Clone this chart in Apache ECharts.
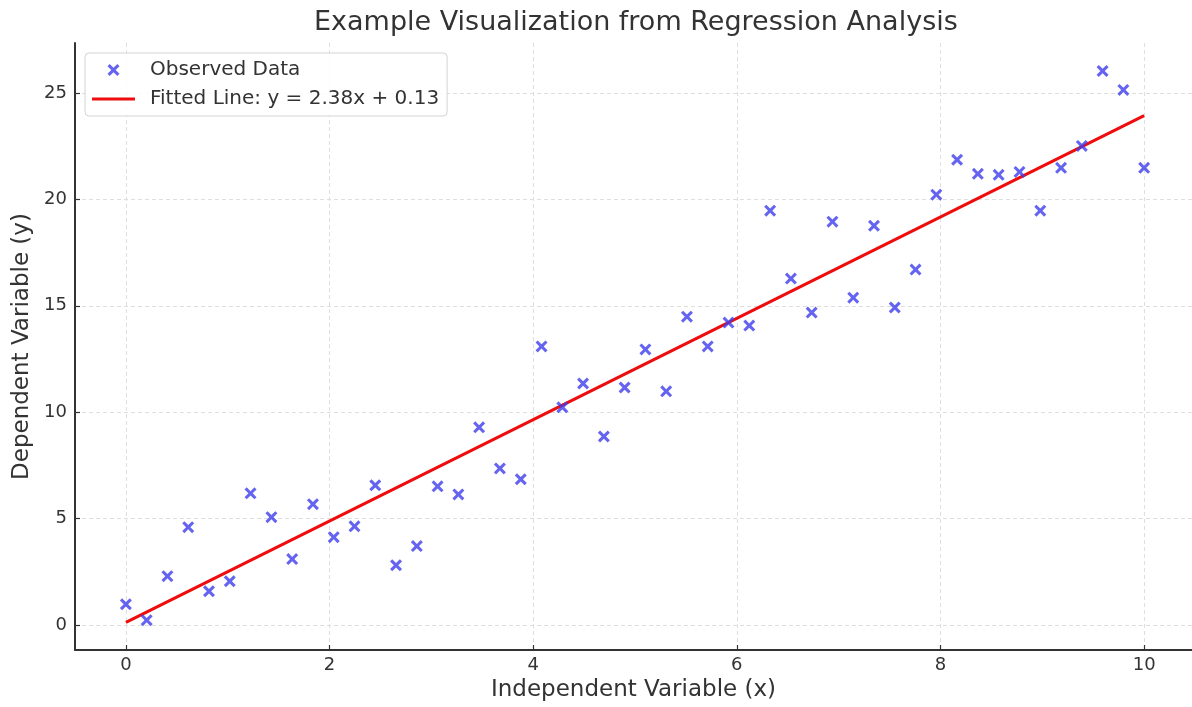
<!DOCTYPE html>
<html>
<head>
<meta charset="utf-8">
<title>Example Visualization from Regression Analysis</title>
<script src="https://cdn.jsdelivr.net/npm/echarts@6/dist/echarts.min.js"></script>
<style>
  html, body { margin: 0; padding: 0; background: #fff; }
  #chart { width: 1192px; height: 707px; }
</style>
</head>
<body>
<div id="chart"></div>
<script>
// observed points
const obsX = [0, 0.204, 0.408, 0.612, 0.816, 1.020, 1.224, 1.429, 1.633, 1.837,
  2.041, 2.245, 2.449, 2.653, 2.857, 3.061, 3.265, 3.469, 3.673, 3.878,
  4.082, 4.286, 4.490, 4.694, 4.898, 5.102, 5.306, 5.510, 5.714, 5.918,
  6.122, 6.327, 6.531, 6.735, 6.939, 7.143, 7.347, 7.551, 7.755, 7.959,
  8.163, 8.367, 8.571, 8.776, 8.980, 9.184, 9.388, 9.592, 9.796, 10]
const obsY = [0.98, 0.23, 2.30, 4.60, 1.59, 2.06, 6.19, 5.07, 3.10, 5.68,
  4.13, 4.64, 6.57, 2.81, 3.71, 6.52, 6.14, 9.29, 7.36, 6.85,
  13.09, 10.23, 11.35, 8.86, 11.16, 12.95, 10.98, 14.49, 13.09, 14.21,
  14.07, 19.47, 16.28, 14.68, 18.95, 15.38, 18.76, 14.92, 16.70, 20.22,
  21.86, 21.20, 21.15, 21.29, 19.47, 21.48, 22.51, 26.03, 25.14, 21.48]

// fitted line end points
const fitX = [0, 10]
const fitY = [0.13, 23.93]

const xTicks = [0, 2, 4, 6, 8, 10]
const yTicks = [0, 5, 10, 15, 20, 25]

const chart = echarts.init(document.getElementById('chart'))

const textColor = '#333'
const font = 'DejaVu Sans'
const blue = '#3d3dee'
const red = '#ee0c0c'
const xMark = 'path://M0,1.8L1.8,0L5,3.2L8.2,0L10,1.8L6.8,5L10,8.2L8.2,10L5,6.8L1.8,10L0,8.2L3.2,5Z'
// thin bar for the legend, with tiny corner specks so it keeps its height
const lineMark = 'path://M0,0L0.01,0L0,0.01ZM0,4.5H43V7.5H0ZM43,12L42.99,12L43,11.99Z'

chart.setOption({
  animation: false,
  backgroundColor: '#fff',
  textStyle: { fontFamily: font, color: textColor },
  title: {
    text: 'Example Visualization from Regression Analysis',
    left: 309,
    top: 4,
    textStyle: { fontFamily: font, fontSize: 27, fontWeight: 'normal', color: textColor }
  },
  legend: {
    orient: 'vertical',
    left: 85,
    top: 53,
    padding: [7, 8, 7, 7],
    itemGap: 9,
    itemWidth: 43,
    itemHeight: 12,
    backgroundColor: 'rgba(255,255,255,0.85)',
    borderColor: '#d4d4d4',
    borderWidth: 1,
    borderRadius: 4,
    textStyle: { fontFamily: font, fontSize: 20, color: textColor, padding: [0, 0, 0, 10] },
    data: [
      { name: 'Observed Data', icon: xMark, itemStyle: { color: blue } },
      { name: 'Fitted Line: y = 2.38x + 0.13', icon: lineMark, itemStyle: { color: red } }
    ]
  },
  grid: { left: 75, right: 0, top: 43, bottom: 56 },
  xAxis: {
    type: 'value',
    min: -0.5,
    max: 10.47,
    name: 'Independent Variable (x)',
    nameLocation: 'middle',
    nameGap: 29,
    nameTextStyle: { fontFamily: font, fontSize: 23, color: textColor },
    axisLine: { onZero: false, lineStyle: { color: textColor, width: 2 } },
    axisTick: { show: true, inside: true, length: 5, customValues: xTicks, lineStyle: { color: textColor, width: 1.2 } },
    axisLabel: { customValues: xTicks, fontFamily: font, fontSize: 18, color: textColor, margin: 6 },
    splitLine: { show: true, lineStyle: { color: '#dedede', type: [4, 3], width: 1 } }
  },
  yAxis: {
    type: 'value',
    min: -1.17,
    max: 27.345,
    name: 'Dependent Variable (y)',
    nameLocation: 'middle',
    nameGap: 41,
    nameTextStyle: { fontFamily: font, fontSize: 23, color: textColor },
    axisLine: { show: true, onZero: false, lineStyle: { color: textColor, width: 2 } },
    axisTick: { show: true, inside: true, length: 5, customValues: yTicks, lineStyle: { color: textColor, width: 1.2 } },
    axisLabel: { customValues: yTicks, fontFamily: font, fontSize: 18, color: textColor, margin: 8 },
    splitLine: { show: true, lineStyle: { color: '#dedede', type: [4, 3], width: 1 } }
  },
  series: [
    {
      name: 'Observed Data',
      type: 'scatter',
      symbol: xMark,
      symbolSize: 12,
      itemStyle: { color: blue },
      data: obsX.map((x, i) => [x, obsY[i]]),
      z: 3
    },
    {
      name: 'Fitted Line: y = 2.38x + 0.13',
      type: 'line',
      showSymbol: false,
      symbol: 'none',
      lineStyle: { color: red, width: 3 },
      itemStyle: { color: red },
      data: fitX.map((x, i) => [x, fitY[i]]),
      z: 2
    }
  ]
})
</script>
</body>
</html>
